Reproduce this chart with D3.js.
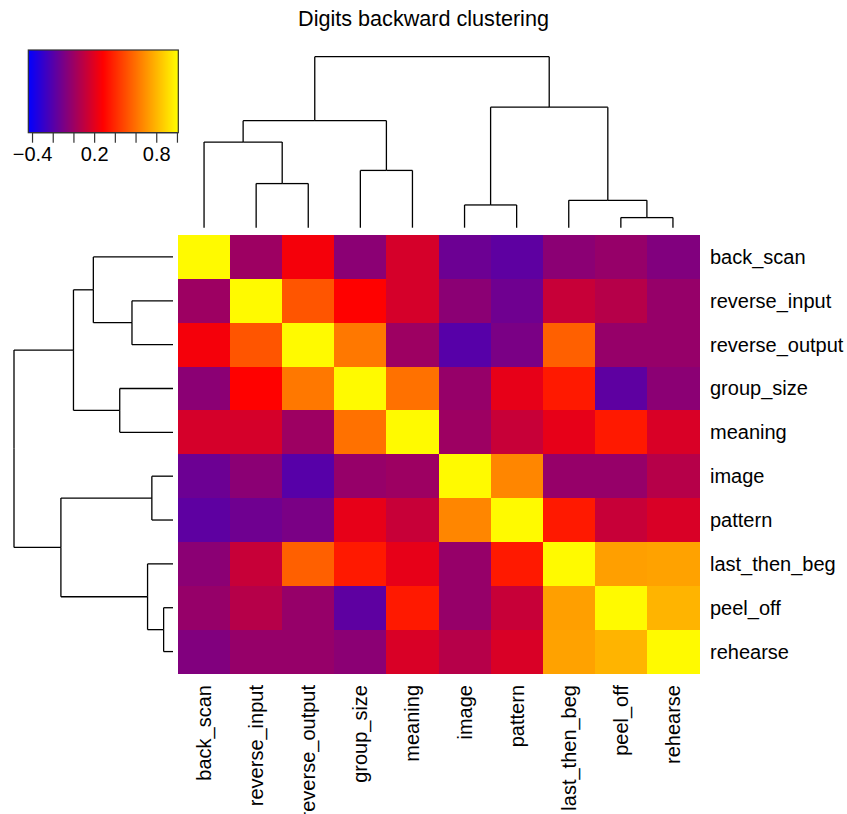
<!DOCTYPE html>
<html>
<head>
<meta charset="utf-8">
<script src="https://cdn.jsdelivr.net/npm/d3@7"></script>
<style>
  html, body { margin: 0; padding: 0; background: #fff; }
  text { font-family: "Liberation Sans", Arial, Helvetica, sans-serif; fill: #000; }
</style>
</head>
<body>
<svg id="chart" width="847" height="814"></svg>
<script>
// ---------- data ----------
const title = "Digits backward clustering";
const labels = ["back_scan", "reverse_input", "reverse_output", "group_size", "meaning",
                "image", "pattern", "last_then_beg", "peel_off", "rehearse"];

// correlation matrix rows (display order, top to bottom)
const row_back_scan      = [ 1.00,  0.01,  0.26, -0.04,  0.17, -0.13, -0.17, -0.04, -0.01, -0.07];
const row_reverse_input  = [ 0.01,  1.00,  0.53,  0.29,  0.17, -0.04, -0.12,  0.13,  0.08, -0.01];
const row_reverse_output = [ 0.26,  0.53,  1.00,  0.63,  0.01, -0.19, -0.09,  0.56, -0.01, -0.01];
const row_group_size     = [-0.04,  0.29,  0.63,  1.00,  0.61, -0.01,  0.22,  0.36, -0.17, -0.04];
const row_meaning        = [ 0.17,  0.17,  0.01,  0.61,  1.00,  0.01,  0.13,  0.22,  0.36,  0.18];
const row_image          = [-0.13, -0.04, -0.19, -0.01,  0.01,  1.00,  0.67, -0.01, -0.01,  0.08];
const row_pattern        = [-0.17, -0.12, -0.09,  0.22,  0.13,  0.67,  1.00,  0.36,  0.13,  0.18];
const row_last_then_beg  = [-0.04,  0.13,  0.56,  0.36,  0.22, -0.01,  0.36,  1.00,  0.74,  0.75];
const row_peel_off       = [-0.01,  0.08, -0.01, -0.17,  0.36, -0.01,  0.13,  0.74,  1.00,  0.80];
const row_rehearse       = [-0.07, -0.01, -0.01, -0.04,  0.18,  0.08,  0.18,  0.75,  0.80,  1.00];
const matrix = [row_back_scan, row_reverse_input, row_reverse_output, row_group_size, row_meaning,
                row_image, row_pattern, row_last_then_beg, row_peel_off, row_rehearse];

// hierarchical clustering merges: [left, right, height]; negative = leaf index (-(i+1)), positive = merge number
const merges = [
  [-2, -3, 0.258],
  [-1,  1, 0.501],
  [-4, -5, 0.335],
  [ 2,  3, 0.626],
  [-6, -7, 0.133],
  [-9, -10, 0.059],
  [-8,  6, 0.160],
  [ 5,  7, 0.705],
  [ 4,  8, 1.000]
];

// colour key
const keyMin = -0.436, keyMax = 1.013;
const keyTicks = [-0.4, -0.2, 0, 0.2, 0.4, 0.6, 0.8, 1.0];
const keyTickLabels = ["\u22120.4", "", "", "0.2", "", "", "0.8", ""];
const palette = ["blue", "red", "yellow"];

// ---------- layout ----------
const svg = d3.select("#chart");
const hm = {x0: 178, x1: 699, y0: 235, y1: 673.5};

const x = d3.scaleBand().domain(d3.range(labels.length)).range([hm.x0, hm.x1]).padding(0);
const y = d3.scaleBand().domain(d3.range(labels.length)).range([hm.y0, hm.y1]).padding(0);
const color = d3.scaleLinear()
  .domain([keyMin, (keyMin + keyMax) / 2, keyMax])
  .range(palette)
  .interpolate(d3.interpolateRgb)
  .clamp(true);

// title
svg.append("text")
  .attr("x", 423.5).attr("y", 25.5)
  .attr("text-anchor", "middle")
  .style("font-size", "21.6px")
  .text(title);

// heatmap cells
const cells = [];
matrix.forEach((row, i) => row.forEach((v, j) => cells.push({i, j, v})));
svg.append("g").selectAll("rect").data(cells).join("rect")
  .attr("x", d => x(d.j))
  .attr("y", d => y(d.i))
  .attr("width", x.bandwidth() + 0.5)
  .attr("height", y.bandwidth() + 0.5)
  .attr("fill", d => color(d.v))
  .attr("shape-rendering", "crispEdges");

// row labels
svg.append("g").selectAll("text").data(labels).join("text")
  .attr("x", 710)
  .attr("y", (d, i) => y(i) + y.bandwidth() / 2)
  .attr("dy", "0.35em")
  .style("font-size", "20px")
  .text(d => d);

// column labels
svg.append("g").selectAll("text").data(labels).join("text")
  .attr("transform", (d, i) => `translate(${x(i) + x.bandwidth() / 2},685) rotate(-90)`)
  .attr("text-anchor", "end")
  .attr("dy", "0.35em")
  .style("font-size", "20px")
  .text(d => d);

// ---------- dendrograms ----------
function buildNodes(pos) {
  // pos(i) -> leaf position; returns list of nodes for merges
  const nodes = [];
  const ref = (k) => k < 0 ? {p: pos(-k - 1), h: 0, leaf: true} : nodes[k - 1];
  merges.forEach(([a, b, h]) => {
    const A = ref(a), B = ref(b);
    nodes.push({p: (A.p + B.p) / 2, h, A, B});
  });
  return nodes;
}

function drawDendro(g, nodes, hScale, horizontalLayout) {
  const segs = [];
  nodes.forEach(n => {
    [n.A, n.B].forEach(c => {
      // horizontal bar part from parent pos to child pos at parent height, then down to child height
      segs.push([[n.p, n.h], [c.p, n.h]]);
      segs.push([[c.p, n.h], [c.p, c.h]]);
    });
  });
  const line = horizontalLayout
    ? d3.line().x(d => hScale(d[1])).y(d => d[0])
    : d3.line().x(d => d[0]).y(d => hScale(d[1]));
  g.selectAll("path").data(segs).join("path")
    .attr("d", line)
    .attr("fill", "none")
    .attr("stroke", "#000")
    .attr("stroke-width", 1.3);
}

// top (column) dendrogram
const colNodes = buildNodes(i => x(i) + x.bandwidth() / 2);
const hTop = d3.scaleLinear().domain([0, 1]).range([227.7, 56.7]);
drawDendro(svg.append("g"), colNodes, hTop, false);

// left (row) dendrogram
const rowNodes = buildNodes(i => y(i) + y.bandwidth() / 2);
const hLeft = d3.scaleLinear().domain([0, 1]).range([173, 14]);
drawDendro(svg.append("g"), rowNodes, hLeft, true);

// ---------- colour key ----------
const key = {x0: 28.3, x1: 178.3, y0: 50, y1: 132.7};
const kx = d3.scaleLinear().domain([keyMin, keyMax]).range([key.x0, key.x1]);
const nSteps = 150;
const stepVals = d3.range(nSteps).map(k => keyMin + (keyMax - keyMin) * (k + 0.5) / nSteps);
const stepW = (key.x1 - key.x0) / nSteps;
svg.append("g").selectAll("rect").data(stepVals).join("rect")
  .attr("x", d => kx(d) - stepW / 2)
  .attr("y", key.y0)
  .attr("width", stepW + 0.4)
  .attr("height", key.y1 - key.y0)
  .attr("fill", d => color(d))
  .attr("shape-rendering", "crispEdges");
svg.append("rect")
  .attr("x", key.x0).attr("y", key.y0)
  .attr("width", key.x1 - key.x0).attr("height", key.y1 - key.y0)
  .attr("fill", "none").attr("stroke", "#333").attr("stroke-width", 1.2);

const axis = d3.axisBottom(kx)
  .tickValues(keyTicks)
  .tickFormat((d, i) => keyTickLabels[i])
  .tickSize(10)
  .tickSizeOuter(0)
  .tickPadding(4);
const ax = svg.append("g").attr("transform", `translate(0,${key.y1})`).call(axis);
ax.select(".domain").attr("stroke", "#333").attr("stroke-width", 1.2)
  .attr("d", `M${kx(keyTicks[0])},0H${kx(keyTicks[keyTicks.length - 1])}`);
ax.selectAll(".tick line").attr("stroke", "#333").attr("stroke-width", 1.2);
ax.selectAll(".tick text")
  .style("font-size", "20px")
  .style("font-family", "'Liberation Sans', Arial, Helvetica, sans-serif")
  .attr("fill", "#000");
</script>
</body>
</html>
